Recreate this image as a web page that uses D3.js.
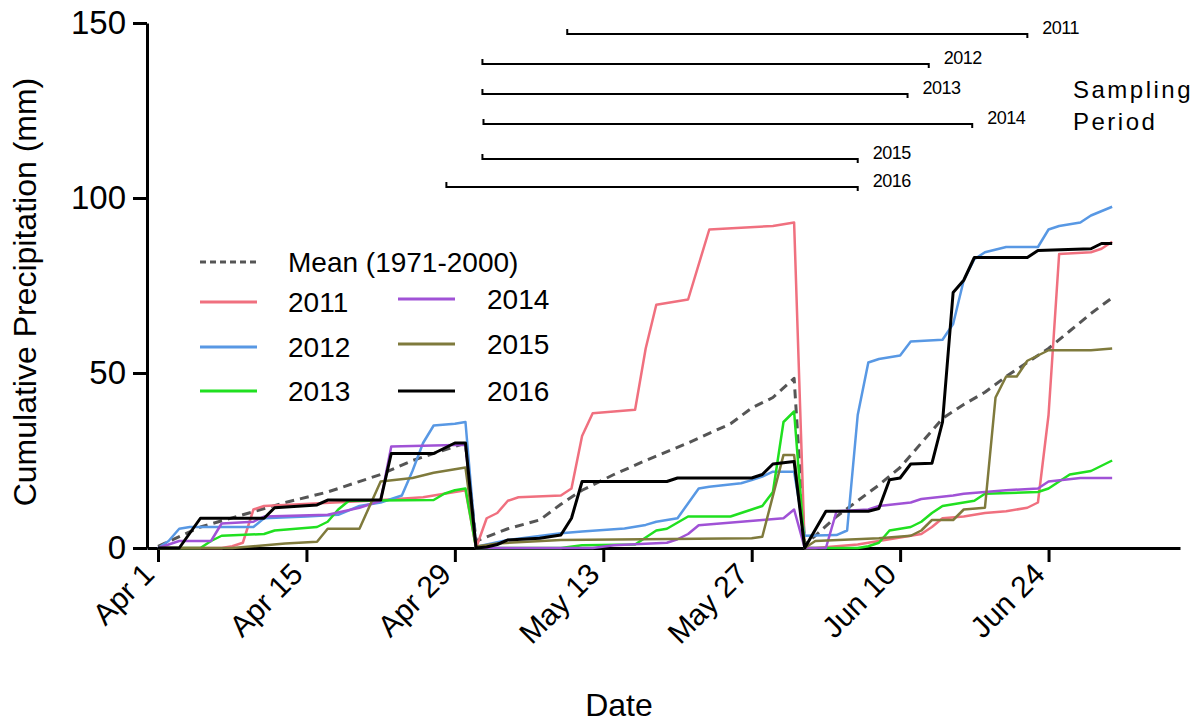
<!DOCTYPE html>
<html>
<head>
<meta charset="utf-8">
<script src="https://cdn.jsdelivr.net/npm/d3@7"></script>
<style>
  body { margin: 0; background: #fff; }
  svg { font-family: "Liberation Sans", Arial, sans-serif; }
  .axis path, .axis line { stroke: #000; stroke-width: 3; }
  .axis text { fill: #000; }
  .series { fill: none; stroke-linejoin: round; }
</style>
</head>
<body>
<svg id="chart" width="1201" height="725"></svg>
<script>
// days are counted from Apr 1 (day 0); values are cumulative mm, reset each month
const meanCum = [[0,0.5],[4,6],[8,9.5],[12,13],[16,16],[21,21],[24,25],[29,30],
  [30,2],[33,5.5],[36,8],[38,12.5],[40,16.5],[43,21],[46,25],[50,30],[54,35.5],[56,40],[58,43],[60,48.5],
  [61,1],[62,3.5],[64,9],[66,13.5],[68,18],[70,23],[72,30],[74,37],[76,41],[78,44.5],[80,49],[82,53],[84,57],[86,62],[88,67],[90,71.5]];

const cum2011 = [[0,0],[6,0],[7,0.5],[8,1.5],[9,11],[10,12],[20,13.5],[25,14.5],[27,15.5],[29,16.5],
  [30,0],[31,8.5],[32,10],[33,13.5],[34,14.5],[38,15],[39,17],[40,32],[41,38.5],[45,39.5],[46,57],[47,69.5],[50,71],[52,91],[55,91.5],[58,92],[60,93],
  [61,0],[62,0],[64,0.5],[66,1],[68,2],[70,3],[72,4],[73,6],[74,8.5],[76,9],[78,10],[80,10.5],[82,11.5],[83,13],[84,38],[85,84],[88,84.5],[89,85.5],[90,87.5]];

const cum2012 = [[0,0],[1,2],[2,5.5],[3,6],[9,6],[10,8.5],[14,9],[17,9.5],[19,12],[21,13],[23,15],[24,22],[25,30],[26,35],[28,35.5],[29,36],
  [30,0.4],[33,2.3],[38,4.2],[40,4.7],[44,5.6],[46,6.6],[47,7.5],[49,8.5],[51,17],[52,17.5],[55,18.5],[56,19.4],[57,20.4],[58,21.8],[60,21.8],
  [61,3.5],[64,3.7],[65,5],[66,38],[67,53],[68,54],[70,55],[71,59],[74,59.5],[75,64],[76,76.5],[77,82.5],[78,84.5],[80,86],[83,86],[84,91],[85,92],[87,93],[88,95],[90,97.5]];

const cum2013 = [[0,0],[4,0],[5,2],[6,3.5],[10,4],[11,5],[15,6],[16,7.5],[17,11],[18,13.5],[26,13.7],[27,15.5],[28,16.5],[29,17],
  [30,0],[38,0],[40,0.8],[45,1],[46,3],[47,5],[48,5.5],[50,9],[54,9],[56,11],[57,12],[58,16],[59,36],[60,39],
  [61,0],[66,0],[67,0.5],[68,1.5],[69,5],[71,6],[72,7.5],[73,10],[74,12],[77,13.5],[78,15.5],[83,16],[84,17],[86,21],[88,22],[90,25]];

const cum2014 = [[0,0],[1,1],[2,2],[5,2],[6,7],[9,7.5],[10,9],[16,9.5],[19,11.5],[21,13.5],[22,29],[29,29.5],
  [30,0],[41,0],[43,0.8],[48,1.5],[49,2.5],[50,4],[51,6.5],[55,7.5],[57,8],[59,8.5],[60,11],
  [61,0],[63,0],[64,10.5],[67,11],[68,12],[71,13],[72,14],[75,15],[76,15.5],[80,16.5],[83,17],[84,19],[87,20],[90,20]];

const cum2015 = [[0,0],[7,0],[9,0.5],[12,1.3],[15,1.8],[16,5.5],[19,5.5],[21,19],[24,20],[26,21.5],[29,23],
  [30,0.4],[32,1.3],[38,2.3],[56,2.8],[57,3.2],[59,26.6],[60,26.6],
  [61,0],[62,2],[68,2.8],[71,3.5],[72,5],[73,8],[75,8],[76,11],[78,11.5],[79,43],[80,49],[81,49],[82,53.5],[84,56.5],[88,56.5],[90,57]];

const cum2016 = [[0,0],[2,0],[4,8.5],[10,8.5],[11,11.5],[15,12.3],[16,13.7],[21,13.7],[22,27],[26,27],[28,30],[29,30],
  [30,0],[31,0.3],[32,1],[33,2.3],[36,2.8],[38,3.7],[39,8.5],[40,19],[48,19],[49,20],[56,20],[57,21],[58,24],[60,24.7],
  [61,0],[63,10.5],[67,10.5],[68,11.3],[69,19.5],[70,20],[71,24],[73,24.2],[74,36],[75,73],[76,76.5],[77,83],[82,83],[83,85],[88,85.5],[89,87],[90,87]];

// x tick positions (days from Apr 1) and their labels
const tickDays = [0, 14, 28, 42, 56, 70, 84];
const tickLabels = ['Apr 1', 'Apr 15', 'Apr 29', 'May 13', 'May 27', 'Jun 10', 'Jun 24'];
const yTicks = [0, 50, 100, 150];

// sampling periods (start / end day)
const sampleYears = ['2011', '2012', '2013', '2014', '2015', '2016'];
const sampleStart = [38.6, 30.6, 30.6, 30.7, 30.6, 27.2];
const sampleEnd = [82.0, 72.7, 70.7, 76.8, 66.0, 66.0];

const svg = d3.select('#chart');

const x = d3.scaleLinear().domain([-1.04, 96.4]).range([147, 1180]);
const y = d3.scaleLinear().domain([0, 150]).range([548, 23]);

const series = [
  { name: 'Mean (1971-2000)', values: meanCum, color: '#555', width: 3, dash: '9,6' },
  { name: '2011', values: cum2011, color: '#f0707f', width: 2.5 },
  { name: '2012', values: cum2012, color: '#5898e4', width: 2.5 },
  { name: '2013', values: cum2013, color: '#20e020', width: 2.5 },
  { name: '2014', values: cum2014, color: '#a052d6', width: 2.5 },
  { name: '2015', values: cum2015, color: '#7f7a3c', width: 2.5 },
  { name: '2016', values: cum2016, color: '#000', width: 3 }
];

// axes
svg.append('g')
  .attr('class', 'axis axis-x')
  .attr('transform', 'translate(0,' + y(0) + ')')
  .call(d3.axisBottom(x).tickValues(tickDays).tickSize(14).tickSizeOuter(0).tickFormat(''));

svg.append('g')
  .attr('class', 'axis axis-y')
  .attr('transform', 'translate(' + x.range()[0] + ',0)')
  .call(d3.axisLeft(y).tickValues(yTicks).tickSize(14).tickSizeOuter(0).tickPadding(7))
  .selectAll('text')
  .style('font-size', '33px');

// rotated date labels
svg.append('g')
  .selectAll('text')
  .data(tickDays)
  .enter()
  .append('text')
  .attr('transform', d => 'translate(' + (x(d) - 2) + ',576) rotate(-45)')
  .attr('text-anchor', 'end')
  .style('font-size', '30px')
  .text((d, i) => tickLabels[i]);

// axis titles
svg.append('text')
  .attr('x', 619)
  .attr('y', 716)
  .attr('text-anchor', 'middle')
  .style('font-size', '32px')
  .text('Date');

svg.append('text')
  .attr('transform', 'translate(36,292) rotate(-90)')
  .attr('text-anchor', 'middle')
  .style('font-size', '32px')
  .text('Cumulative Precipitation (mm)');

// lines
const line = d3.line()
  .x(d => x(d[0]))
  .y(d => y(d[1]));

svg.append('g')
  .selectAll('path')
  .data(series)
  .enter()
  .append('path')
  .attr('class', 'series')
  .attr('d', d => line(d.values))
  .style('stroke', d => d.color)
  .style('stroke-width', d => d.width)
  .style('stroke-dasharray', d => d.dash || null);

// legend
const legendPos = [
  { x: 200, tx: 288, y: 262 },
  { x: 200, tx: 288, y: 302 },
  { x: 200, tx: 288, y: 347 },
  { x: 200, tx: 288, y: 391 },
  { x: 398, tx: 487, y: 299 },
  { x: 398, tx: 487, y: 344 },
  { x: 398, tx: 487, y: 391 }
];

const legend = svg.append('g')
  .selectAll('g')
  .data(series)
  .enter()
  .append('g')
  .attr('transform', (d, i) => 'translate(0,' + legendPos[i].y + ')');

legend.append('line')
  .attr('x1', (d, i) => legendPos[i].x)
  .attr('x2', (d, i) => legendPos[i].x + 57)
  .style('stroke', d => d.color)
  .style('stroke-width', 3)
  .style('stroke-dasharray', d => d.dash ? '6,4' : null);

legend.append('text')
  .attr('x', (d, i) => legendPos[i].tx)
  .attr('dy', '0.36em')
  .style('font-size', '28px')
  .text(d => d.name);

// sampling periods
const rowY = [34, 64, 94, 124, 159, 187];

const periods = svg.append('g')
  .selectAll('g')
  .data(sampleYears)
  .enter()
  .append('g')
  .attr('transform', (d, i) => 'translate(0,' + rowY[i] + ')');

periods.append('path')
  .attr('d', (d, i) => {
    const x0 = x(sampleStart[i]), x1 = x(sampleEnd[i]);
    return 'M' + x0 + ',-5V0H' + x1 + 'V4';
  })
  .style('fill', 'none')
  .style('stroke', '#000')
  .style('stroke-width', 2);

periods.append('text')
  .attr('x', (d, i) => x(sampleEnd[i]) + 15)
  .attr('y', -6)
  .attr('dy', '0.35em')
  .style('font-size', '18px')
  .style('letter-spacing', '-0.5px')
  .text(d => d);

svg.append('text')
  .attr('x', 1073)
  .attr('y', 98)
  .style('font-size', '24px')
  .style('letter-spacing', '2.5px')
  .text('Sampling');

svg.append('text')
  .attr('x', 1073)
  .attr('y', 130)
  .style('font-size', '24px')
  .style('letter-spacing', '2.5px')
  .text('Period');
</script>
</body>
</html>
